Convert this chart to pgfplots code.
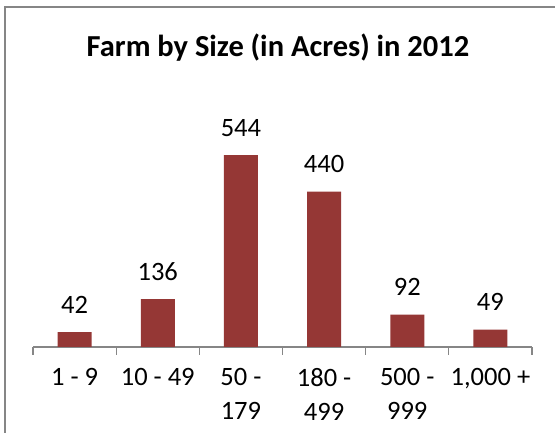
\documentclass[border=0pt]{standalone}
\usepackage{pgfplots}
\pgfplotsset{compat=1.18}
\usepackage{fontspec}
\setmainfont{Carlito}
\definecolor{barred}{RGB}{149,55,53}
\definecolor{framegray}{RGB}{134,134,134}
\begin{document}
\begin{tikzpicture}
\path[use as bounding box] (0pt,0pt) rectangle (555pt,433pt);
\draw[framegray, line width=1.5pt] (555pt,426pt) -- (5pt,426pt) -- (5pt,0pt);
\node[anchor=base, font=\fontsize{30.5}{36}\selectfont\bfseries] at (278pt,376pt) {Farm by Size (in Acres) in 2012};
\begin{axis}[
  at={(33pt,86pt)}, anchor=south west,
  scale only axis, width=499pt, height=247pt,
  xmin=-0.5, xmax=5.5, ymin=0, ymax=700,
  hide y axis,
  axis x line*=bottom,
  x axis line style={draw=framegray, line width=1.3pt, -},
  xtick={0,1,2,3,4,5},
  xticklabels={{1 - 9},{10 - 49},{50 -\\179},{180 -\\499},{500 -\\999},{1,000 +}},
  minor xtick={-0.5,0.5,1.5,2.5,3.5,4.5,5.5},
  tick align=outside,
  major tick length=0pt,
  minor tick length=8pt,
  minor tick style={draw=framegray, line width=1.3pt},
  xticklabel style={font=\fontsize{26.5}{34}\selectfont, align=center, anchor=north, inner sep=0pt, yshift=-21pt},
  /pgf/number format/assume math mode=true,
  ybar, bar width=34pt,
  nodes near coords,
  every node near coord/.append style={font=\fontsize{26.5}{30}\selectfont, anchor=base, yshift=19pt, black},
  clip=false,
]
\addplot[fill=barred, draw=none] coordinates {(0,42) (1,136) (2,544) (3,440) (4,92) (5,49)};
\end{axis}
\end{tikzpicture}
\end{document}
